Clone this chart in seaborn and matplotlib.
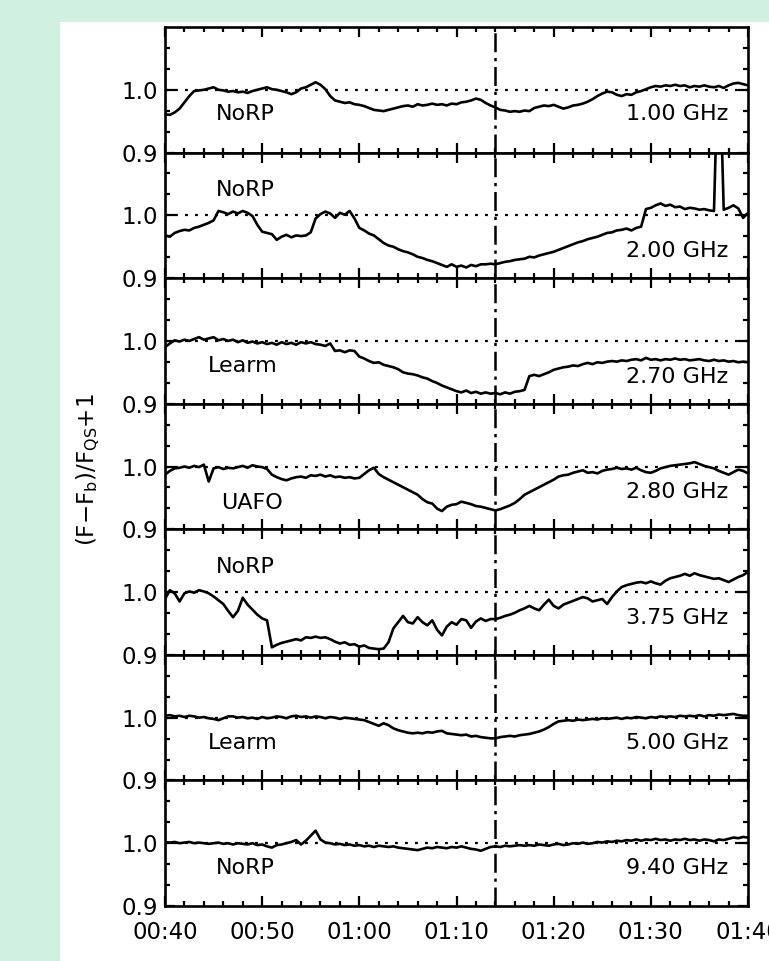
import numpy as np
import pandas as pd
import matplotlib
matplotlib.use("Agg")
import matplotlib.pyplot as plt
import seaborn as sns
from matplotlib.ticker import FixedLocator, MultipleLocator
from matplotlib.patches import Rectangle

# ---------------- data ----------------
# time in minutes after 00:40 UT, sampled every 0.5 min
minutes = np.arange(0, 60.5, 0.5)

xtick_pos = [0, 10, 20, 30, 40, 50, 60]
xtick_labels = ["00:40", "00:50", "01:00", "01:10", "01:20", "01:30", "01:40"]
event_minute = 34  # 01:14 UT

stations = ["NoRP", "NoRP", "Learm", "UAFO", "NoRP", "Learm", "NoRP"]
freqs = ["1.00 GHz", "2.00 GHz", "2.70 GHz", "2.80 GHz", "3.75 GHz", "5.00 GHz", "9.40 GHz"]

f100 = [0.961, 0.960, 0.964, 0.970, 0.980, 0.990, 0.998, 0.999, 1.000, 1.002,
        1.004, 1.000, 0.999, 0.997, 0.998, 0.996, 0.997, 0.995, 0.998, 1.000,
        1.002, 1.004, 1.001, 1.000, 0.998, 0.996, 0.993, 0.996, 1.002, 1.004,
        1.008, 1.012, 1.008, 1.001, 0.990, 0.983, 0.981, 0.979, 0.980, 0.977,
        0.976, 0.974, 0.971, 0.968, 0.967, 0.966, 0.968, 0.970, 0.972, 0.974,
        0.975, 0.973, 0.977, 0.975, 0.976, 0.978, 0.976, 0.977, 0.975, 0.978,
        0.977, 0.980, 0.981, 0.983, 0.986, 0.984, 0.979, 0.975, 0.972, 0.968,
        0.967, 0.965, 0.966, 0.965, 0.967, 0.966, 0.971, 0.973, 0.975, 0.974,
        0.976, 0.973, 0.970, 0.972, 0.975, 0.976, 0.978, 0.981, 0.985, 0.990,
        0.994, 0.997, 0.996, 0.992, 0.990, 0.993, 0.992, 0.996, 0.998, 1.001,
        1.004, 1.006, 1.005, 1.007, 1.006, 1.008, 1.006, 1.007, 1.004, 1.006,
        1.005, 1.007, 1.005, 1.004, 1.006, 1.003, 1.007, 1.010, 1.011, 1.009,
        1.007]

f200 = [0.968, 0.966, 0.972, 0.975, 0.977, 0.976, 0.980, 0.982, 0.985, 0.988,
        0.992, 1.007, 1.005, 1.002, 1.006, 1.003, 1.007, 1.004, 0.999, 0.985,
        0.974, 0.972, 0.970, 0.961, 0.966, 0.969, 0.965, 0.968, 0.967, 0.968,
        0.973, 0.995, 1.002, 1.006, 1.003, 0.996, 1.004, 1.001, 1.007, 0.995,
        0.980, 0.976, 0.971, 0.968, 0.962, 0.956, 0.952, 0.950, 0.946, 0.943,
        0.941, 0.938, 0.934, 0.932, 0.929, 0.927, 0.924, 0.921, 0.918, 0.922,
        0.918, 0.920, 0.917, 0.921, 0.919, 0.922, 0.922, 0.923, 0.922, 0.924,
        0.926, 0.927, 0.929, 0.930, 0.931, 0.934, 0.933, 0.936, 0.938, 0.940,
        0.942, 0.945, 0.948, 0.951, 0.954, 0.957, 0.959, 0.962, 0.964, 0.966,
        0.969, 0.972, 0.973, 0.976, 0.977, 0.979, 0.976, 0.980, 0.982, 1.010,
        1.012, 1.016, 1.019, 1.015, 1.017, 1.013, 1.014, 1.010, 1.012, 1.011,
        1.009, 1.010, 1.008, 1.007, 1.150, 1.009, 1.012, 1.016, 1.011, 0.996,
        1.004]
# narrow interference spike in the 2.00 GHz record
spike_t = [56.75, 57.25]
spike_v = [1.150, 1.150]

f270 = [0.990, 0.996, 1.001, 0.999, 1.002, 1.000, 1.003, 1.006, 1.002, 1.004,
        1.006, 1.001, 1.003, 1.000, 1.002, 0.998, 1.001, 0.997, 0.999, 0.996,
        0.998, 0.995, 0.997, 0.994, 0.998, 0.995, 0.997, 0.994, 0.998, 0.996,
        0.998, 0.995, 0.994, 0.992, 0.996, 0.984, 0.985, 0.982, 0.985, 0.984,
        0.975, 0.972, 0.968, 0.965, 0.966, 0.962, 0.960, 0.958, 0.955, 0.950,
        0.948, 0.947, 0.945, 0.942, 0.940, 0.936, 0.933, 0.929, 0.926, 0.923,
        0.920, 0.918, 0.921, 0.917, 0.919, 0.916, 0.918, 0.916, 0.917, 0.915,
        0.918, 0.916, 0.919, 0.920, 0.922, 0.944, 0.946, 0.944, 0.947, 0.950,
        0.954, 0.956, 0.958, 0.959, 0.961, 0.960, 0.963, 0.965, 0.963, 0.966,
        0.965, 0.967, 0.968, 0.967, 0.969, 0.968, 0.970, 0.971, 0.969, 0.973,
        0.970, 0.971, 0.969, 0.971, 0.970, 0.972, 0.970, 0.971, 0.969, 0.970,
        0.971, 0.969, 0.968, 0.970, 0.968, 0.969, 0.967, 0.968, 0.966, 0.967,
        0.966]

f280 = [0.987, 0.993, 0.997, 0.998, 1.000, 0.998, 1.001, 0.999, 1.003, 0.976,
        0.997, 0.999, 0.996, 0.998, 0.997, 0.999, 1.001, 0.998, 1.002, 1.000,
        0.999, 0.996, 0.987, 0.983, 0.980, 0.978, 0.981, 0.983, 0.984, 0.982,
        0.986, 0.985, 0.987, 0.984, 0.986, 0.983, 0.984, 0.982, 0.983, 0.981,
        0.982, 0.988, 0.994, 0.998, 0.988, 0.983, 0.979, 0.975, 0.971, 0.967,
        0.963, 0.959, 0.955, 0.948, 0.943, 0.941, 0.933, 0.929, 0.936, 0.939,
        0.940, 0.944, 0.942, 0.940, 0.937, 0.936, 0.934, 0.932, 0.930, 0.932,
        0.935, 0.938, 0.942, 0.948, 0.955, 0.959, 0.963, 0.967, 0.971, 0.975,
        0.979, 0.984, 0.986, 0.987, 0.990, 0.992, 0.994, 0.990, 0.991, 0.989,
        0.993, 0.995, 0.996, 0.998, 0.996, 0.997, 0.995, 0.998, 0.994, 0.991,
        0.990, 0.993, 0.997, 0.999, 1.001, 1.002, 1.003, 1.004, 1.005, 1.007,
        1.004, 1.001, 0.999, 0.997, 0.993, 0.990, 0.987, 0.991, 0.995, 0.993,
        0.989]

f375 = [0.989, 1.003, 0.998, 0.985, 0.998, 1.001, 0.999, 1.003, 1.001, 0.998,
        0.993, 0.987, 0.981, 0.970, 0.960, 0.970, 0.991, 0.980, 0.972, 0.964,
        0.958, 0.955, 0.912, 0.916, 0.919, 0.921, 0.923, 0.925, 0.923, 0.928,
        0.927, 0.929, 0.927, 0.928, 0.925, 0.921, 0.918, 0.920, 0.916, 0.917,
        0.913, 0.915, 0.911, 0.910, 0.909, 0.910, 0.920, 0.942, 0.952, 0.962,
        0.952, 0.950, 0.960, 0.952, 0.947, 0.955, 0.940, 0.931, 0.945, 0.952,
        0.948, 0.957, 0.955, 0.943, 0.953, 0.958, 0.954, 0.957, 0.957, 0.959,
        0.962, 0.964, 0.967, 0.971, 0.974, 0.978, 0.974, 0.971, 0.980, 0.988,
        0.978, 0.974, 0.980, 0.983, 0.986, 0.989, 0.992, 0.990, 0.985, 0.987,
        0.989, 0.981, 0.992, 1.001, 1.008, 1.011, 1.013, 1.015, 1.016, 1.014,
        1.017, 1.014, 1.012, 1.018, 1.022, 1.024, 1.026, 1.029, 1.026, 1.030,
        1.027, 1.025, 1.023, 1.021, 1.022, 1.019, 1.016, 1.020, 1.024, 1.027,
        1.032]

f500 = [1.003, 1.004, 1.002, 1.003, 1.001, 1.003, 1.002, 1.000, 1.001, 0.999,
        0.998, 0.996, 0.999, 1.002, 1.002, 1.000, 1.001, 0.999, 1.000, 0.998,
        1.001, 0.999, 1.000, 1.002, 1.001, 0.999, 1.002, 1.003, 1.001, 1.002,
        1.000, 1.002, 1.001, 0.999, 1.001, 1.000, 0.998, 1.000, 0.999, 0.998,
        0.997, 0.996, 0.993, 0.990, 0.987, 0.991, 0.988, 0.983, 0.980, 0.978,
        0.976, 0.975, 0.976, 0.975, 0.977, 0.976, 0.978, 0.979, 0.975, 0.974,
        0.973, 0.972, 0.973, 0.970, 0.971, 0.969, 0.968, 0.967, 0.967, 0.969,
        0.970, 0.971, 0.970, 0.972, 0.973, 0.974, 0.976, 0.978, 0.981, 0.985,
        0.990, 0.994, 0.995, 0.996, 0.995, 0.997, 0.996, 0.997, 0.998, 0.997,
        0.999, 0.998, 0.999, 1.000, 0.998, 1.000, 0.999, 1.001, 1.000, 0.999,
        1.001, 1.000, 1.002, 1.001, 1.002, 1.001, 1.003, 1.002, 1.003, 1.002,
        1.004, 1.002, 1.004, 1.003, 1.005, 1.004, 1.005, 1.006, 1.004, 1.003,
        1.003]

f940 = [1.002, 1.001, 1.002, 1.000, 1.001, 1.002, 1.000, 1.001, 1.000, 0.999,
        1.000, 1.001, 0.999, 1.000, 0.998, 1.000, 0.999, 0.998, 1.000, 0.997,
        0.998, 0.995, 0.993, 0.997, 0.998, 1.000, 1.002, 1.005, 0.998, 1.004,
        1.012, 1.020, 1.006, 1.001, 1.000, 0.998, 0.999, 0.997, 0.998, 0.996,
        0.997, 0.995, 0.996, 0.994, 0.996, 0.995, 0.994, 0.995, 0.993, 0.992,
        0.991, 0.990, 0.989, 0.991, 0.993, 0.992, 0.994, 0.993, 0.992, 0.994,
        0.993, 0.995, 0.993, 0.991, 0.990, 0.988, 0.991, 0.994, 0.995, 0.994,
        0.996, 0.995, 0.996, 0.997, 0.996, 0.997, 0.996, 0.998, 0.997, 0.996,
        0.998, 0.999, 0.997, 0.998, 1.000, 0.999, 1.001, 0.999, 1.000, 1.002,
        1.001, 1.003, 1.002, 1.004, 1.003, 1.005, 1.004, 1.006, 1.004, 1.006,
        1.005, 1.007, 1.005, 1.006, 1.004, 1.006, 1.005, 1.007, 1.005, 1.006,
        1.004, 1.006, 1.005, 1.003, 1.006, 1.005, 1.007, 1.009, 1.008, 1.010,
        1.009]

series = [f100, f200, f270, f280, f375, f500, f940]

# label placement (minutes, value) inside each panel
station_xy = [(5.2, 0.961), (5.2, 1.040), (4.4, 0.960), (5.8, 0.942),
              (5.2, 1.040), (4.4, 0.959), (5.2, 0.960)]
freq_xy = [(58.0, 0.961), (58.0, 0.944), (58.0, 0.943), (58.0, 0.959),
           (58.0, 0.959), (58.0, 0.959), (58.0, 0.960)]

# ---------------- style ----------------
sns.set_theme(style="ticks")
plt.rcParams["font.family"] = ["DejaVu Sans"]
plt.rcParams["mathtext.fontset"] = "dejavusans"
for key in ["text.color", "axes.labelcolor", "xtick.color", "ytick.color",
            "xtick.labelcolor", "ytick.labelcolor"]:
    plt.rcParams[key] = "black"

fig = plt.figure(figsize=(7.69, 9.61), dpi=100, facecolor="#d0f0e0")
fig.patches.append(Rectangle((60 / 769, 0), 1.0, 1 - 22 / 961,
                             transform=fig.transFigure, facecolor="white",
                             edgecolor="none", zorder=-10))

gs = fig.add_gridspec(7, 1, left=165 / 769, right=748 / 769,
                      top=1 - 27 / 961, bottom=1 - 906 / 961, hspace=0)
axes = [fig.add_subplot(gs[i, 0]) for i in range(7)]

for i, ax in enumerate(axes):
    t = list(minutes)
    v = list(series[i])
    if i == 1:
        t = t + spike_t
        v = v + spike_v
    df = pd.DataFrame({"t": t, "v": v}).sort_values("t")
    sns.lineplot(data=df, x="t", y="v", ax=ax, color="black", lw=1.9,
                 estimator=None, sort=False)
    ax.axhline(1.0, color="black", lw=1.6, ls=(0, (1.3, 3.2)), zorder=1)
    ax.axvline(event_minute, color="black", lw=1.8, ls=(0, (7.6, 2.3, 1.3, 2.3)),
               zorder=1)

    ax.set_xlim(0, 60)
    ax.set_ylim(0.9, 1.1)
    ax.set_facecolor("white")
    ax.xaxis.set_major_locator(FixedLocator(xtick_pos))
    ax.xaxis.set_minor_locator(MultipleLocator(2))
    ax.yaxis.set_major_locator(FixedLocator([0.9, 1.0]))
    ax.yaxis.set_minor_locator(FixedLocator([0.9333, 0.9667, 1.0333, 1.0667]))
    ax.set_yticklabels(["0.9", "1.0"])
    ax.tick_params(axis="both", which="both", direction="in", top=True,
                   right=True, width=1.6, color="black", labelcolor="black")
    ax.tick_params(axis="both", which="major", length=7.5)
    ax.tick_params(axis="both", which="minor", length=3.8)
    ax.tick_params(axis="y", labelsize=16.5, pad=5)
    ax.tick_params(axis="x", labelsize=16.5, pad=11)
    for sp in ax.spines.values():
        sp.set_linewidth(1.9)
        sp.set_color("black")
    ax.set_xlabel("")
    ax.set_ylabel("")
    if i < 6:
        ax.tick_params(axis="x", labelbottom=False)
    else:
        ax.set_xticklabels(xtick_labels)

    sx, sy = station_xy[i]
    ax.text(sx, sy, stations[i], ha="left", va="center", fontsize=16,
            color="black")
    fx, fy = freq_xy[i]
    ax.text(fx, fy, freqs[i], ha="right", va="center", fontsize=16,
            color="black")

fig.text(0.114, 0.511, r"(F$-$F$_{\rm b}$)/F$_{\rm QS}$+1", rotation=90,
         ha="center", va="center", fontsize=16.5, color="black")

fig.savefig("out.png", dpi=100, facecolor=fig.get_facecolor())
